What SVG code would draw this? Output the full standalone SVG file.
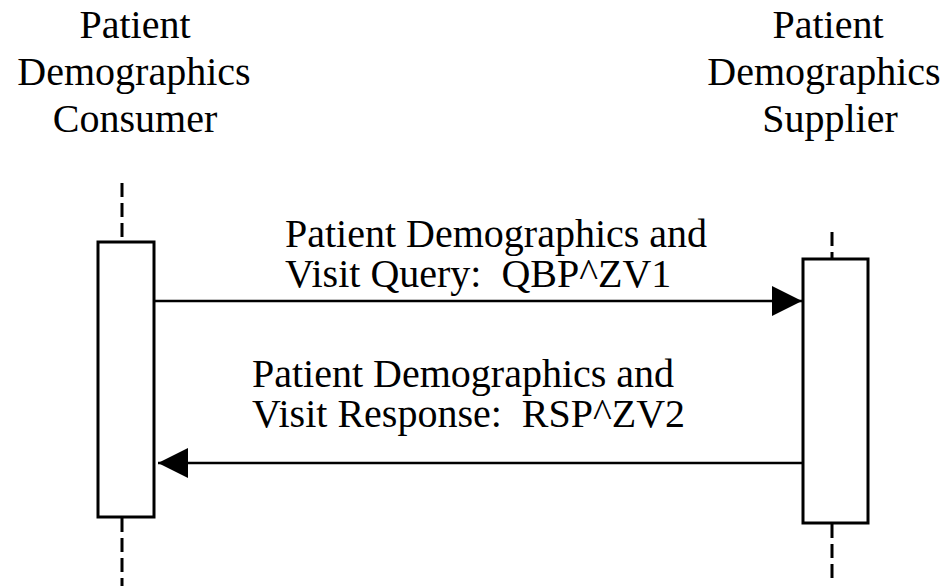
<svg xmlns="http://www.w3.org/2000/svg" width="948" height="586" viewBox="0 0 948 586">
  <style>
    text { font-family: "Liberation Serif", "Times New Roman", serif; font-size: 40px; fill: #000; }
    .title { text-anchor: middle; }
    .box { fill: #fff; stroke: #000; stroke-width: 3; }
    .life { stroke: #000; stroke-width: 3; stroke-dasharray: 14 6; fill: none; }
    .msg { stroke: #000; stroke-width: 2.5; fill: none; marker-end: url(#arrow); }
  </style>
  <defs>
    <marker id="arrow" markerUnits="userSpaceOnUse" markerWidth="31" markerHeight="31" refX="30" refY="15.5" orient="auto" viewBox="0 0 31 31">
      <path d="M0,0.5 L30,15.5 L0,30.5 Z" fill="#000"/>
    </marker>
  </defs>
  <rect width="948" height="586" fill="#fff"/>
  <g id="consumer">
    <text class="title" x="135" y="38">Patient</text>
    <text class="title" x="134" y="85">Demographics</text>
    <text class="title" x="135" y="132">Consumer</text>
    <line class="life" x1="122" y1="183" x2="122" y2="241"/>
    <line class="life" x1="122" y1="518" x2="122" y2="586"/>
    <rect class="box" x="98" y="242" width="56" height="275"/>
  </g>
  <g id="supplier">
    <text class="title" x="828" y="38">Patient</text>
    <text class="title" x="824" y="85">Demographics</text>
    <text class="title" x="830" y="132">Supplier</text>
    <line class="life" x1="832" y1="232" x2="832" y2="258"/>
    <line class="life" x1="832" y1="524" x2="832" y2="582"/>
    <rect class="box" x="803" y="259" width="65" height="264"/>
  </g>
  <g id="connectors">
    <line class="msg" x1="155" y1="301" x2="802" y2="301"/>
    <line class="msg" x1="802" y1="463" x2="158" y2="463"/>
  </g>
  <g id="labels">
    <text x="285" y="247">Patient Demographics and</text>
    <text x="285" y="287" xml:space="preserve">Visit Query:  QBP^ZV1</text>
    <text x="252" y="387">Patient Demographics and</text>
    <text x="252" y="427" xml:space="preserve">Visit Response:  RSP^ZV2</text>
  </g>
</svg>
